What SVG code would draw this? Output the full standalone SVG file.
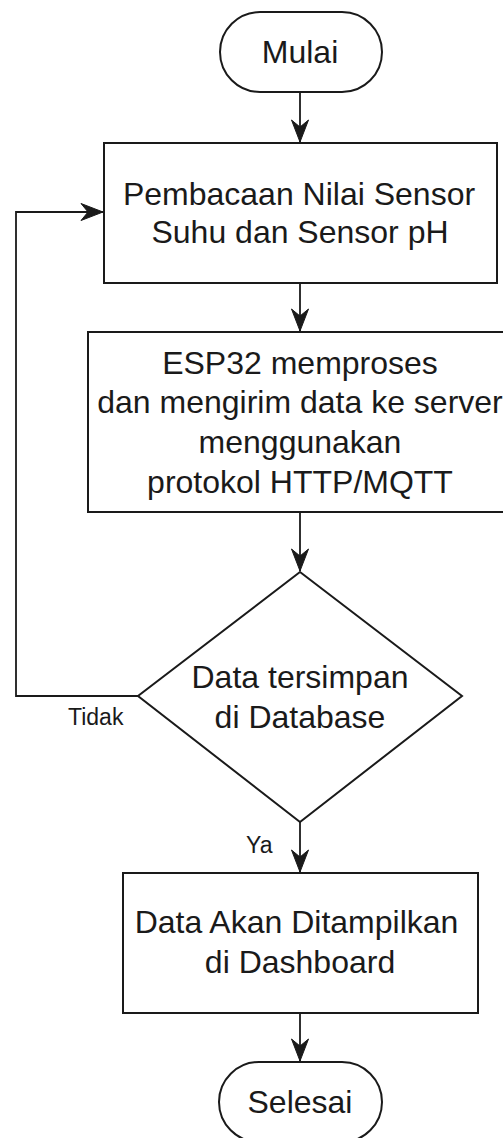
<svg xmlns="http://www.w3.org/2000/svg" width="503" height="1138" viewBox="0 0 503 1138">
  <style>
    .shape { fill: #ffffff; stroke: #1a1a1a; stroke-width: 2; }
    .edge { fill: none; stroke: #1a1a1a; stroke-width: 1.8; }
    .label { font-family: "Liberation Sans", Arial, sans-serif; font-size: 32px; fill: #1a1a1a; text-anchor: middle; }
    .small { font-family: "Liberation Sans", Arial, sans-serif; font-size: 23px; fill: #1a1a1a; }
  </style>
  <defs>
    <marker id="arrow" markerUnits="userSpaceOnUse" markerWidth="24" markerHeight="20" viewBox="-23 -10 24 20" refX="0" refY="0" orient="auto">
      <path d="M0,0 L-22,-8.5 L-15,0 L-22,8.5 Z" fill="#1a1a1a" stroke="#1a1a1a" stroke-width="1"/>
    </marker>
  </defs>

  <!-- connectors -->
  <g id="connectors">
    <path class="edge" d="M300,92 V142" marker-end="url(#arrow)"/>
    <path class="edge" d="M300,283 V331" marker-end="url(#arrow)"/>
    <path class="edge" d="M300,512 V571" marker-end="url(#arrow)"/>
    <path class="edge" d="M300,822 V872" marker-end="url(#arrow)"/>
    <path class="edge" d="M300,1013 V1061" marker-end="url(#arrow)"/>
    <path class="edge" d="M138,696 H16 V212 H103" marker-end="url(#arrow)"/>
    <text class="small" x="68" y="725">Tidak</text>
    <text class="small" x="246" y="853">Ya</text>
  </g>

  <!-- start -->
  <g id="node-mulai">
    <rect class="shape" x="220" y="12" width="162" height="80" rx="40" ry="40"/>
    <text class="label" x="300" y="63">Mulai</text>
  </g>

  <!-- sensor reading -->
  <g id="node-baca">
    <rect class="shape" x="104" y="143" width="393" height="140"/>
    <text class="label" x="299" y="205">Pembacaan Nilai Sensor</text>
    <text class="label" x="300" y="243">Suhu dan Sensor pH</text>
  </g>

  <!-- processing and sending -->
  <g id="node-esp32">
    <rect class="shape" x="88" y="332" width="424" height="180"/>
    <text class="label" x="300" y="374">ESP32 memproses</text>
    <text class="label" x="300" y="413">dan mengirim data ke server</text>
    <text class="label" x="300" y="453">menggunakan</text>
    <text class="label" x="300" y="493">protokol HTTP/MQTT</text>
  </g>

  <!-- decision -->
  <g id="node-cek">
    <polygon class="shape" points="300,572 462,696 300,822 138,696"/>
    <text class="label" x="300" y="688">Data tersimpan</text>
    <text class="label" x="300" y="728">di Database</text>
  </g>

  <!-- display -->
  <g id="node-tampil">
    <rect class="shape" x="123" y="873" width="355" height="140"/>
    <text class="label" x="296.5" y="933">Data Akan Ditampilkan</text>
    <text class="label" x="300" y="973">di Dashboard</text>
  </g>

  <!-- end -->
  <g id="node-selesai">
    <rect class="shape" x="219" y="1062" width="163" height="80" rx="40" ry="40"/>
    <text class="label" x="300" y="1113">Selesai</text>
  </g>
</svg>
